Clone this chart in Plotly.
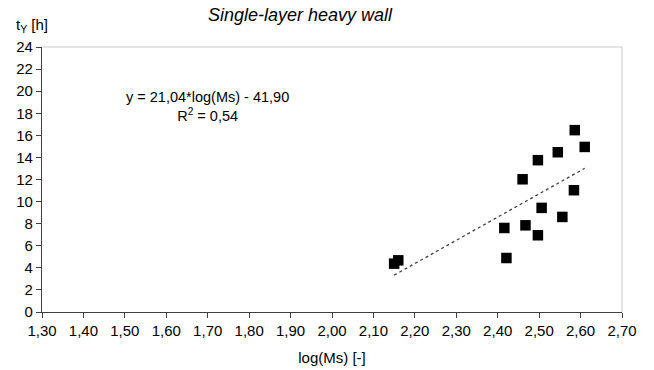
import plotly.graph_objects as go

# Data
log_ms = [2.150, 2.160, 2.416, 2.421, 2.460, 2.467, 2.497, 2.497, 2.506, 2.545, 2.556, 2.586, 2.584, 2.610]
t_y = [4.38, 4.68, 7.61, 4.89, 12.02, 7.85, 13.75, 6.95, 9.43, 14.47, 8.61, 16.47, 11.03, 14.95]

slope = 21.04
intercept = -41.90
trend_x = [min(log_ms), max(log_ms)]
trend_y = [slope * v + intercept for v in trend_x]

x_ticks = [1.30 + 0.1 * i for i in range(15)]
x_ticktext = [f"{v:.2f}".replace(".", ",") for v in x_ticks]
y_ticks = list(range(0, 25, 2))

FONT = "Liberation Sans, Arial, sans-serif"

fig = go.Figure()
fig.add_trace(go.Scatter(
    x=trend_x, y=trend_y, mode="lines",
    line=dict(color="#404040", width=1.3, dash="dot"),
    hoverinfo="skip", showlegend=False))
fig.add_trace(go.Scatter(
    x=log_ms, y=t_y, mode="markers",
    marker=dict(symbol="square", size=10.5, color="black", line=dict(width=0)),
    showlegend=False))

fig.update_layout(
    width=654, height=370,
    margin=dict(l=41.5, r=31.5, t=47, b=57.5),
    paper_bgcolor="white", plot_bgcolor="white",
    font=dict(family=FONT, size=15, color="black"),
    title=dict(text="<i>Single-layer heavy wall</i>", x=300 / 654, xanchor="center",
               y=1 - 15 / 370, yanchor="middle", font=dict(size=18, family=FONT)),
    xaxis=dict(range=[1.30, 2.70], tickvals=x_ticks, ticktext=x_ticktext, automargin=False,
               showgrid=False, zeroline=False, showline=True, linecolor="#404040", linewidth=1.3,
               ticks="outside", ticklen=5, tickcolor="#404040", tickfont=dict(size=15),
               title=dict(text="log(Ms) [-]", standoff=14, font=dict(size=15))),
    yaxis=dict(range=[0, 24], tickvals=y_ticks, automargin=False,
               showgrid=False, zeroline=False, showline=True, linecolor="#404040", linewidth=1.3,
               ticks="outside", ticklen=5, tickcolor="#404040", tickfont=dict(size=15)),
    shapes=[
        dict(type="line", xref="paper", yref="paper", x0=0, x1=1, y0=1, y1=1,
             line=dict(color="#c8c8c8", width=1)),
        dict(type="line", xref="paper", yref="paper", x0=1, x1=1, y0=0, y1=1,
             line=dict(color="#c8c8c8", width=1)),
    ],
    annotations=[
        dict(text="t<sub>Y</sub> [h]", xref="paper", yref="paper",
             x=-28 / 581, y=1 + 22 / 265, xanchor="left", yanchor="middle",
             showarrow=False, font=dict(size=15)),
        dict(text="y = 21,04*log(Ms) - 41,90<br>R<sup>2</sup> = 0,54", xref="x", yref="y",
             x=1.70, y=18.6, xanchor="center", yanchor="middle", align="center",
             showarrow=False, font=dict(size=14.5)),
    ],
)

fig.write_html("out.html")
